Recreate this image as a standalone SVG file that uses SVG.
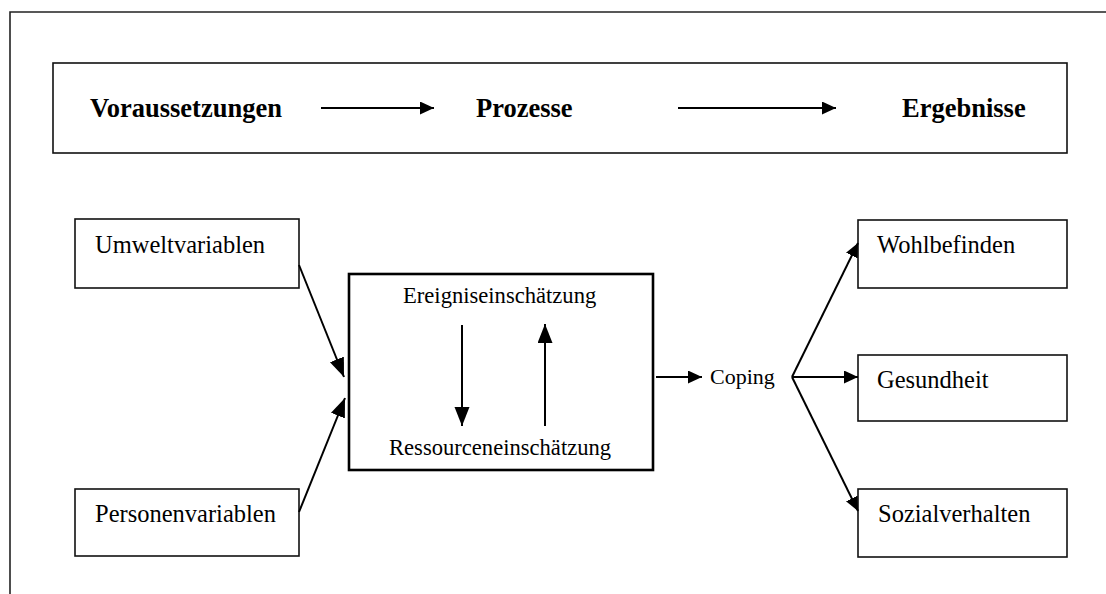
<svg xmlns="http://www.w3.org/2000/svg" width="1106" height="594" viewBox="0 0 1106 594">
  <style>
    .box { fill: #fff; stroke: #111; stroke-width: 1.6; }
    .core { fill: #fff; stroke: #000; stroke-width: 2.6; }
    .head { font-family: "Liberation Serif", "Times New Roman", serif; font-weight: bold; font-size: 26.5px; fill: #000; }
    .lbl { font-family: "Liberation Serif", "Times New Roman", serif; font-size: 24.5px; fill: #000; }
    .inner { font-family: "Liberation Serif", "Times New Roman", serif; font-size: 22.6px; fill: #000; }
    .link { fill: none; stroke: #000; stroke-width: 2; }
  </style>
  <defs>
    <marker id="arrow" markerUnits="userSpaceOnUse" markerWidth="16" markerHeight="14" refX="14" refY="6.5" orient="auto">
      <path d="M0,0 L14,6.5 L0,13 Z" fill="#000"/>
    </marker>
    <marker id="arrow-lg" markerUnits="userSpaceOnUse" markerWidth="20" markerHeight="16" refX="19" refY="7.5" orient="auto">
      <path d="M0,0 L19,7.5 L0,15 Z" fill="#000"/>
    </marker>
  </defs>

  <rect width="1106" height="594" fill="#fff"/>

  <!-- outer frame -->
  <path d="M10,594 L10,12 L1106,12" fill="none" stroke="#222" stroke-width="1.6"/>

  <!-- header band -->
  <g id="header">
    <rect class="box" x="53" y="63" width="1014" height="90"/>
    <text class="head" x="90" y="117">Voraussetzungen</text>
    <text class="head" x="476" y="117">Prozesse</text>
    <text class="head" x="902" y="117">Ergebnisse</text>
  </g>

  <g id="umweltvariablen">
    <rect class="box" x="75" y="219" width="224" height="69"/>
    <text class="lbl" x="95" y="253">Umweltvariablen</text>
  </g>

  <g id="personenvariablen">
    <rect class="box" x="75" y="489" width="224" height="67"/>
    <text class="lbl" x="95" y="522">Personenvariablen</text>
  </g>

  <g id="bewertung">
    <rect class="core" x="349" y="274" width="304" height="196"/>
    <text class="inner" x="403" y="303">Ereigniseinschätzung</text>
    <text class="inner" x="389" y="455">Ressourceneinschätzung</text>
  </g>

  <g id="coping">
    <text class="inner" x="710" y="384" style="font-size:22px">Coping</text>
  </g>

  <g id="wohlbefinden">
    <rect class="box" x="858" y="220" width="209" height="68"/>
    <text class="lbl" x="877" y="253">Wohlbefinden</text>
  </g>

  <g id="gesundheit">
    <rect class="box" x="858" y="355" width="209" height="66"/>
    <text class="lbl" x="877" y="388">Gesundheit</text>
  </g>

  <g id="sozialverhalten">
    <rect class="box" x="858" y="489" width="209" height="68"/>
    <text class="lbl" x="878" y="522">Sozialverhalten</text>
  </g>

  <!-- connectors -->
  <g id="connectors">
    <line class="link" x1="321" y1="108" x2="434" y2="108" marker-end="url(#arrow)"/>
    <line class="link" x1="678" y1="108" x2="836" y2="108" marker-end="url(#arrow)"/>

    <line class="link" x1="299" y1="265" x2="344" y2="377" marker-end="url(#arrow-lg)"/>
    <line class="link" x1="299" y1="512" x2="345" y2="398" marker-end="url(#arrow-lg)"/>

    <line class="link" x1="462" y1="325" x2="462" y2="426" marker-end="url(#arrow-lg)"/>
    <line class="link" x1="545" y1="426" x2="545" y2="324" marker-end="url(#arrow-lg)"/>

    <line class="link" x1="656" y1="377" x2="702" y2="377" marker-end="url(#arrow)"/>

    <line class="link" x1="792" y1="377" x2="858" y2="243" marker-end="url(#arrow)"/>
    <line class="link" x1="792" y1="377" x2="858" y2="377" marker-end="url(#arrow)"/>
    <line class="link" x1="792" y1="377" x2="858" y2="511" marker-end="url(#arrow)"/>
  </g>
</svg>
